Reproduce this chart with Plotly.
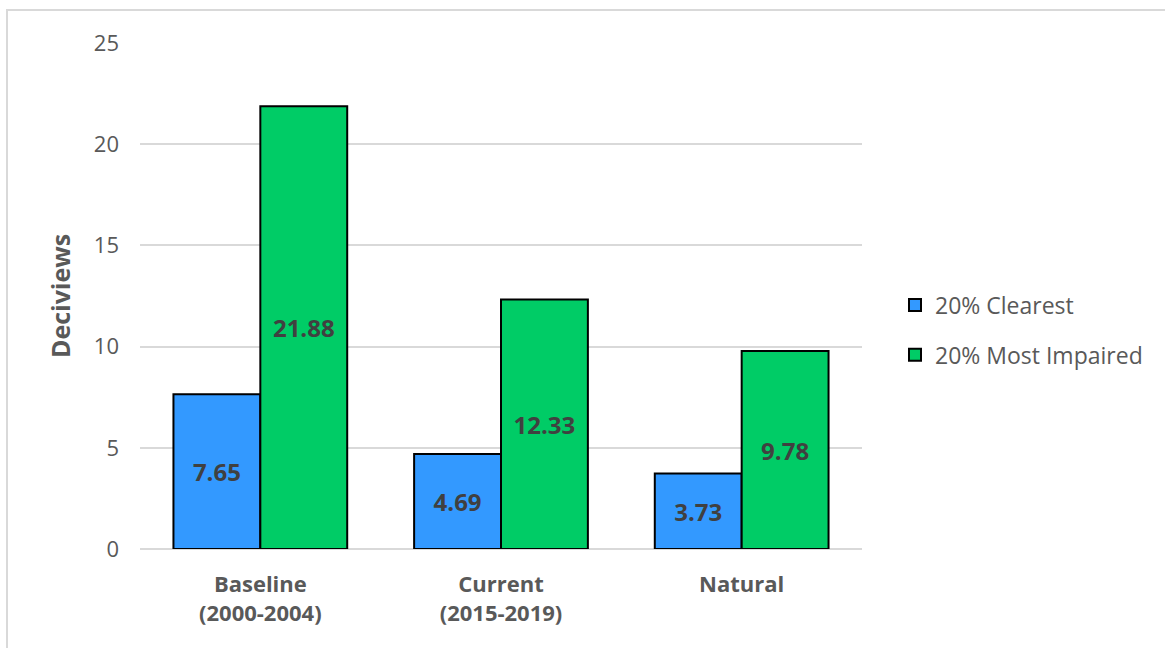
import plotly.graph_objects as go

# Visibility by period, in deciviews
categories = ["Baseline<br>(2000-2004)", "Current<br>(2015-2019)", "Natural"]
clearest = [7.65, 4.69, 3.73]
most_impaired = [21.88, 12.33, 9.78]
y_ticks = [0, 5, 10, 15, 20, 25]

FONT = "Open Sans, Liberation Sans, sans-serif"
AXIS_GRAY = "#595959"
LABEL_GRAY = "#404040"

W, H = 1165, 648
ML, MR, MT, MB = 140, 303, 43, 99
PW, PH = W - ML - MR, H - MT - MB

fig = go.Figure()
series = [
    ("20% Clearest", clearest, "#3399FF"),
    ("20% Most Impaired", most_impaired, "#00CC66"),
]
for i, (name, vals, color) in enumerate(series):
    fig.add_trace(go.Bar(
        name=name,
        x=categories,
        y=vals,
        marker=dict(color=color, line=dict(color="#000000", width=2)),
        text=[f"{v:.2f}" for v in vals],
        textposition="inside",
        insidetextanchor="middle",
        textangle=0,
        textfont=dict(family=FONT, size=24, color=LABEL_GRAY, weight="bold"),
        legendgroup=f"g{i}",
        cliponaxis=False,
    ))

# Outer chart border (light gray frame)
fig.add_shape(
    type="rect", xref="paper", yref="paper",
    x0=(7 - ML) / PW, x1=(W + 20 - ML) / PW,
    y0=-(H + 20 - MT - PH) / PH, y1=(PH + MT - 10) / PH,
    line=dict(color="#d9d9d9", width=2), fillcolor="rgba(0,0,0,0)",
    layer="below",
)

fig.update_layout(
    width=W, height=H,
    margin=dict(l=ML, r=MR, t=MT, b=MB, pad=0),
    paper_bgcolor="white", plot_bgcolor="white",
    barmode="group", bargap=0.278, bargroupgap=0,
    font=dict(family=FONT, color=AXIS_GRAY),
    showlegend=True,
    legend=dict(
        x=(895 - ML) / PW, xanchor="left",
        y=0.5 - 34 / PH, yanchor="middle",
        font=dict(family=FONT, size=23, color=AXIS_GRAY),
        traceorder="grouped", tracegroupgap=17,
        itemwidth=30,
        bgcolor="rgba(0,0,0,0)",
    ),
    xaxis=dict(
        range=[-0.5, 2.5],
        showgrid=False, showline=False, zeroline=False,
        tickfont=dict(family=FONT, size=22, color=AXIS_GRAY, weight="bold"),
        ticklabelstandoff=20,
    ),
    yaxis=dict(
        range=[0, 25], tickvals=y_ticks,
        showgrid=True, gridcolor="#d9d9d9", gridwidth=2,
        zeroline=True, zerolinecolor="#d9d9d9", zerolinewidth=2,
        showline=False,
        tickfont=dict(family=FONT, size=22, color=AXIS_GRAY),
        ticklabelstandoff=20,
        title=dict(text="Deciviews", standoff=16,
                   font=dict(family=FONT, size=25, color=AXIS_GRAY, weight="bold")),
    ),
)

fig.write_html("out.html")
